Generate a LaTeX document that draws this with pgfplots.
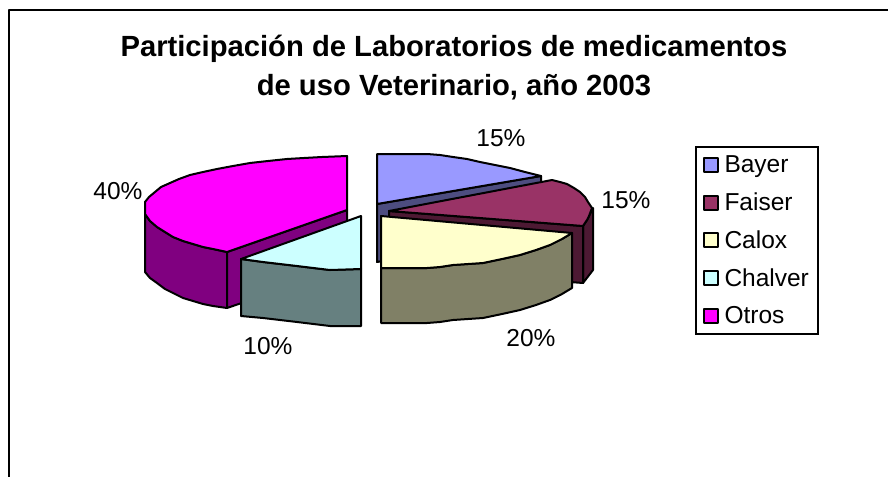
\documentclass[border=0pt]{standalone}
\usepackage{pgfplots}
\pgfplotsset{compat=1.18}
\usepackage{fontspec}
\setmainfont{Liberation Sans}
\definecolor{bayer}{HTML}{9999FF}\definecolor{bayerd}{HTML}{4D4D80}
\definecolor{faiser}{HTML}{993366}\definecolor{faiserd}{HTML}{4D1933}
\definecolor{calox}{HTML}{FFFFCC}\definecolor{caloxd}{HTML}{808066}
\definecolor{chalver}{HTML}{CCFFFF}\definecolor{chalverd}{HTML}{668080}
\definecolor{otros}{HTML}{FF00FF}\definecolor{otrosd}{HTML}{800080}
\newcommand{\lab}{\fontsize{24.5bp}{28bp}\selectfont}
\begin{document}
\begin{tikzpicture}
\useasboundingbox (0,0) rectangle (888bp,477bp);
\begin{axis}[at={(0,0)},anchor=south west,width=888bp,height=477bp,scale only axis,
  xmin=0,xmax=888,ymin=0,ymax=477,y dir=reverse,hide axis,clip=false,
  legend cell align=left,
  legend image code/.code={\draw[#1,line width=2bp] (0bp,-7bp) rectangle (14bp,7bp);},
  legend style={at={(axis cs:695,146)},anchor=north west,draw=black,line width=2bp,
    font=\lab,row sep=14.6bp,inner xsep=7bp,inner ysep=7bp,
    /tikz/column 1/.style={column sep=3.5bp}},
  every axis plot/.append style={no markers,line width=2bp,line join=round,forget plot}]
% frame
\addplot[draw=black,line width=2.5bp] coordinates {(9,477) (9,10) (888,10)};
% Otros
\addplot[draw=black,fill=otrosd] coordinates {(145,202) (145,272) (150,278) (157,283) (165,289) (173,293) (183,298) (193,301) (203,304) (213,306) (227,308) (227,252) (213,249) (203,247) (193,244) (183,241) (173,237) (165,232) (157,227) (150,221) (145,214)} -- cycle;
\addplot[draw=black,fill=otrosd] coordinates {(227,252) (347,210) (347,267) (227,308)} -- cycle;
\addplot[draw=black,fill=otros] coordinates {(347,156) (322,157) (304,158) (287,159) (268,161) (250,163) (233,166) (217,169) (203,172) (190,175) (179,179) (170,183) (161,187) (155,192) (149,197) (145,202) (145,214) (150,221) (157,227) (165,232) (173,237) (183,241) (193,244) (203,247) (213,249) (227,252) (347,210)} -- cycle;
% Bayer
\addplot[draw=black,fill=bayerd] coordinates {(377,204) (541,176) (541,234) (377,262)} -- cycle;
\addplot[draw=black,fill=bayer] coordinates {(377,154) (427,154) (440,155) (453,157) (467,159) (480,162) (495,165) (510,168) (525,172) (541,176) (377,204)} -- cycle;
% Faiser
\addplot[draw=black,fill=faiserd] coordinates {(593,208) (593,270) (583,283) (583,226) (587,220)} -- cycle;
\addplot[draw=black,fill=faiserd] coordinates {(389,211) (583,226) (583,283) (389,268)} -- cycle;
\addplot[draw=black,fill=faiser] coordinates {(389,211) (552,180) (560,182) (567,184) (574,188) (580,192) (585,197) (588,202) (592,208) (589,216) (587,220) (583,226)} -- cycle;
% Calox
\addplot[draw=black,fill=caloxd] coordinates {(381,268) (381,323) (427,323) (440,322) (453,320) (468,319) (483,318) (502,314) (520,310) (536,305) (550,300) (562,294) (572,288) (572,233) (562,239) (550,245) (536,250) (520,255) (502,259) (483,263) (468,264) (453,265) (440,267) (427,268)} -- cycle;
\addplot[draw=black,fill=calox] coordinates {(381,216) (572,233) (562,239) (550,245) (536,250) (520,255) (502,259) (483,263) (468,264) (453,265) (440,267) (427,268) (381,268)} -- cycle;
% Chalver
\addplot[draw=black,fill=chalverd] coordinates {(241,259) (241,316) (263,318) (297,322) (330,326) (361,326) (361,269) (330,270) (297,266) (263,262)} -- cycle;
\addplot[draw=black,fill=chalver] coordinates {(361,216) (241,259) (263,262) (297,266) (330,270) (361,269)} -- cycle;
% legend
\addlegendimage{draw=black,fill=bayer}\addlegendentry{Bayer}
\addlegendimage{draw=black,fill=faiser}\addlegendentry{Faiser}
\addlegendimage{draw=black,fill=calox}\addlegendentry{Calox}
\addlegendimage{draw=black,fill=chalver}\addlegendentry{Chalver}
\addlegendimage{draw=black,fill=otros}\addlegendentry{Otros}
% labels
\node[font=\lab] at (axis cs:501,138) {15\%};
\node[font=\lab] at (axis cs:626,200) {15\%};
\node[font=\lab] at (axis cs:531,338) {20\%};
\node[font=\lab] at (axis cs:268,346) {10\%};
\node[font=\lab] at (axis cs:118,191) {40\%};
\node[font=\bfseries\fontsize{29.2bp}{39bp}\selectfont,align=center] at (axis cs:454,68) {Participación de Laboratorios de medicamentos\\de uso Veterinario, año 2003};
\end{axis}
\end{tikzpicture}
\end{document}
